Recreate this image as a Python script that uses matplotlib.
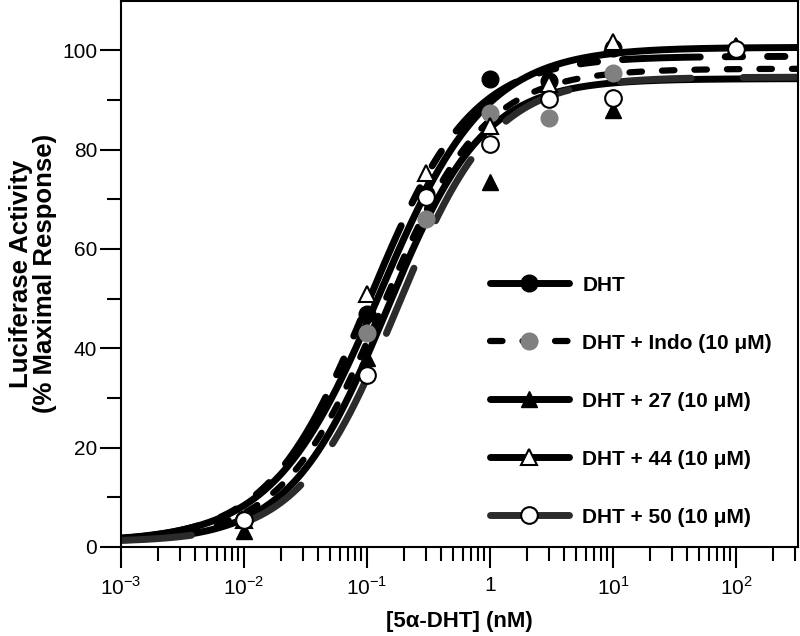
import numpy as np
import matplotlib.pyplot as plt
from matplotlib.lines import Line2D
from matplotlib.ticker import FixedLocator, FixedFormatter, LogLocator, NullFormatter

plt.rcParams['font.family'] = ['Liberation Sans', 'DejaVu Sans']
plt.rcParams['mathtext.fontset'] = 'custom'
plt.rcParams['mathtext.rm'] = 'Liberation Sans'
plt.rcParams['mathtext.bf'] = 'Liberation Sans:bold'

# concentrations of 5a-DHT (nM)
conc = [0.01, 0.1, 0.3, 1, 3, 10, 100]

# % maximal response (nan = no point shown)
resp_dht = [5.6, 47.0, 71.0, 94.3, 93.8, 100.5, np.nan]
resp_indo = [5.4, 43.0, 66.0, 87.3, 86.3, 95.4, np.nan]
resp_27 = [3.2, 38.0, 72.0, 73.4, 93.3, 87.9, np.nan]
resp_44 = [5.4, 51.0, 75.2, 84.7, 93.3, 101.6, 100.9]
resp_50 = [5.4, 34.7, 70.4, 81.2, 90.1, 90.3, 100.2]

# fitted curves: bottom, top, logEC50, hill slope
fit_dht = [1.0, 98.8, -0.98, 1.05]
fit_indo = [1.0, 96.3, -0.87, 1.05]
fit_27 = [1.0, 94.3, -0.84, 1.1]
fit_44 = [1.0, 100.6, -0.90, 1.0]
fit_50 = [1.0, 94.6, -0.76, 1.1]

labels = ['DHT', 'DHT + Indo (10 \u03bcM)', 'DHT + 27 (10 \u03bcM)',
          'DHT + 44 (10 \u03bcM)', 'DHT + 50 (10 \u03bcM)']


def hill(x, p):
    bottom, top, logec50, h = p
    return bottom + (top - bottom) / (1 + 10 ** ((logec50 - np.log10(x)) * h))


fig = plt.figure(figsize=(8, 6.36), dpi=100)
ax = fig.add_axes([0.151, 0.140, 0.846, 0.859])

xs = np.logspace(-3, 2.5, 500)

# curves
lw = 5
ax.plot(xs, hill(xs, fit_44), color='black', lw=lw, solid_capstyle='round', zorder=2)
ax.plot(xs, hill(xs, fit_27), color='black', lw=lw, solid_capstyle='round', zorder=2.1)
ax.plot(xs, hill(xs, fit_indo), color='black', lw=4.5, dashes=(2.0, 3.2),
        dash_capstyle='round', zorder=2.2)
ax.plot(xs, hill(xs, fit_dht), color='black', lw=lw,
        dashes=(11.2, 3.6, 2.5, 3.6, 2.5, 3.6), dash_capstyle='round', zorder=2.3)
ax.plot(xs, hill(xs, fit_50), color='#2b2b2b', lw=lw, dashes=(10.2, 7.5),
        dash_capstyle='round', zorder=2.4)

# data points
ms = 12
ax.plot(conc, resp_dht, 'o', color='black', ms=ms, zorder=5)
ax.plot(conc, resp_indo, 'o', color='#808080', mec='#808080', ms=ms, zorder=5.1)
ax.plot(conc, resp_27, '^', color='black', ms=ms, zorder=5.2)
ax.plot(conc, resp_44, '^', mfc='white', mec='black', mew=1.5, ms=ms, zorder=5.3)
ax.plot(conc, resp_50, 'o', mfc='white', mec='black', mew=1.5, ms=ms, zorder=5.4)

ax.set_xscale('log')
ax.set_xlim(1e-3, 10 ** 2.5)
ax.set_ylim(0, 110)

ax.xaxis.set_major_locator(FixedLocator([1e-3, 1e-2, 1e-1, 1, 10, 100]))
ax.xaxis.set_major_formatter(FixedFormatter(['10$^{-3}$', '10$^{-2}$', '10$^{-1}$',
                                             '1', '10$^{1}$', '10$^{2}$']))
ax.xaxis.set_minor_locator(LogLocator(base=10, subs=np.arange(2, 10), numticks=20))
ax.xaxis.set_minor_formatter(NullFormatter())
ax.set_yticks([0, 20, 40, 60, 80, 100])
ax.set_yticks([10, 30, 50, 70, 90], minor=True)

for s in ax.spines.values():
    s.set_linewidth(1.5)
ax.tick_params(which='major', length=15, width=1.5, labelsize=15)
ax.tick_params(which='minor', length=10, width=1.5)
ax.tick_params(axis='x', which='major', pad=6)
ax.tick_params(axis='y', which='major', pad=2)

ax.set_xlabel('[5\u03b1-DHT] (nM)', fontsize=16, fontweight='bold', labelpad=9)
ax.set_ylabel('Luciferase Activity\n(% Maximal Response)', fontsize=18.5,
              fontweight='bold', labelpad=4, linespacing=1.0)

# legend
handles = [
    Line2D([], [], color='black', lw=lw, marker='o', ms=ms, solid_capstyle='round'),
    Line2D([], [], color='black', lw=4.5, dashes=(2.0, 3.2), dash_capstyle='round',
           marker='o', mfc='#808080', mec='#808080', ms=ms),
    Line2D([], [], color='black', lw=lw, marker='^', ms=ms, solid_capstyle='round'),
    Line2D([], [], color='black', lw=lw, marker='^', mfc='white', mec='black', mew=1.5,
           ms=ms, solid_capstyle='round'),
    Line2D([], [], color='#2b2b2b', lw=lw, marker='o', mfc='white', mec='black', mew=1.5,
           ms=ms, solid_capstyle='round'),
]
ax.legend(handles, labels, loc='upper left', bbox_to_anchor=(0.545, 0.4965),
          frameon=False, borderpad=0, borderaxespad=0, handlelength=3.8,
          handletextpad=0.65, labelspacing=1.87, numpoints=1,
          prop={'family': 'Liberation Sans', 'weight': 'bold', 'size': 15})

fig.savefig('out.png', dpi=100)
